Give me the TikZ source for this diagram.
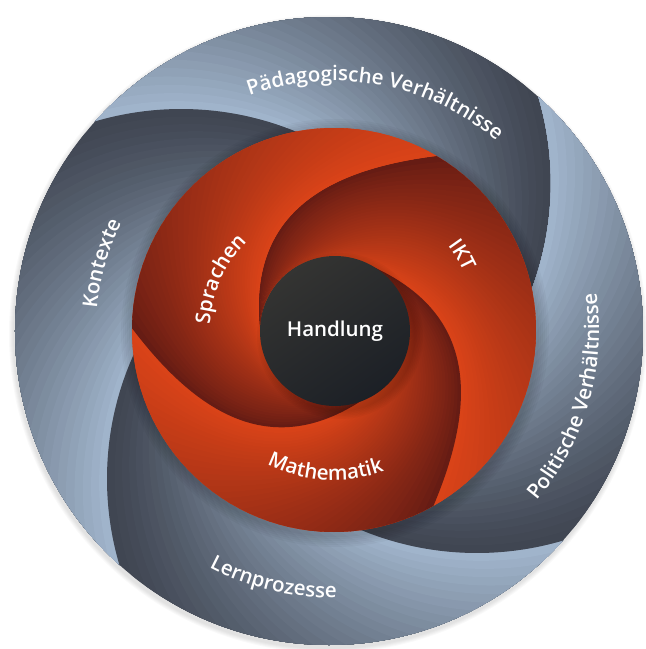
\documentclass[tikz,border=0pt]{standalone}
\usepackage{fontspec}
\setmainfont{Open Sans}
\newfontfamily\labelfont{Open Sans Semibold}
\usetikzlibrary{decorations.text}

\definecolor{ringlight}{RGB}{160,180,203}
\definecolor{ringdark}{RGB}{64,70,82}
\definecolor{armbright}{RGB}{217,67,24}
\definecolor{armdark}{RGB}{102,28,20}
\definecolor{hubtop}{RGB}{52,52,50}
\definecolor{hubbottom}{RGB}{28,32,38}

\tikzset{
  labeltext/.style={decorate,
    decoration={text along path, text align=center, text color=white,
      text={|\labelfont\fontsize{20.5}{24}\selectfont|#1}}},
  hub/.style={circle, minimum size=150pt, inner sep=0pt, text=white,
    font=\labelfont\fontsize{20.5}{24}\selectfont,
    top color=hubtop, bottom color=hubbottom, shading angle=35}
}

\begin{document}
\begin{tikzpicture}[x=1pt, y=1pt]
\useasboundingbox (-334,-319) rectangle (312,330);

% soft shadow under the disc
\foreach \k in {1,...,5}
  \fill[black, opacity=0.025] (-6,-4) circle (314+\k);

% outer ring: four petals, painted from the dark end to the light start
\begin{scope}[shift={(-5,-1)}]
  \clip (0,0) circle (314);
  \foreach \p in {0,90,180,270}{
    \begin{scope}
      % visible part of petal \p: its disc minus the next disc
      \clip (343.7+\p:159.2) arc[start angle=-39.5+\p, end angle=186.9+\p, radius=303]
        arc[start angle=140.5+\p, end angle=-6.9+\p, radius=303] -- cycle;
      \foreach \s in {0,3,...,87}{
        \pgfmathsetmacro{\mixval}{100*(\s/87)^1.2}
        \fill[ringlight!\mixval!ringdark] (118.7+\p+\s:168.7) circle (303);
      }
    \end{scope}
  }
\end{scope}

% shadow of the red disc
\foreach \k in {1,...,6}
  \fill[black, opacity=0.03] (1,-3) circle (202+2*\k);

% red disc with three spiral arms
\fill[armbright] (0,0) circle (202);
\foreach \arm in {0,120,240}{
  \foreach \s in {0,3,...,117}{
    \pgfmathsetmacro{\angA}{\arm+\s}
    \pgfmathsetmacro{\angB}{\arm+min(\s+4,120)}
    \pgfmathsetmacro{\mixval}{100*(\s/117)^0.8}
    \fill[armbright!\mixval!armdark]
      (59.5-\angA:202) .. controls (93.6-\angA:160.3) and (126.8-\angA:143.6) .. (180-\angA:74)
      -- (180-\angB:74) .. controls (126.8-\angB:143.6) and (93.6-\angB:160.3) .. (59.5-\angB:202)
      arc[start angle=59.5-\angB, end angle=59.5-\angA, radius=202] -- cycle;
  }
}

% shadow of the hub
\foreach \k in {1,...,6}
  \fill[black, opacity=0.03] (6,-6) circle (74+1.5*\k);

\node[hub] (hub) at (1,-1) {Handlung};

% labels
\path[labeltext={Pädagogische Verhältnisse}] (139.6:249) arc[start angle=139.6, end angle=19.6, radius=249];
\path[labeltext={Kontexte}] (204:238) arc[start angle=204, end angle=124, radius=238];
\path[labeltext={Politische Verhältnisse}] (-86:265) arc[start angle=-86, end angle=54, radius=265];
\path[labeltext={Lernprozesse}] (-173.6:268) arc[start angle=-173.6, end angle=-33.6, radius=268];
\path[labeltext={Mathematik}] (-163.5:150) arc[start angle=-163.5, end angle=-23.5, radius=150];
\path[labeltext={Sprachen}] (216:124) arc[start angle=216, end angle=96, radius=124];
\path[labeltext={IKT}] (90.4:142) arc[start angle=90.4, end angle=-29.6, radius=142];

\end{tikzpicture}
\end{document}
